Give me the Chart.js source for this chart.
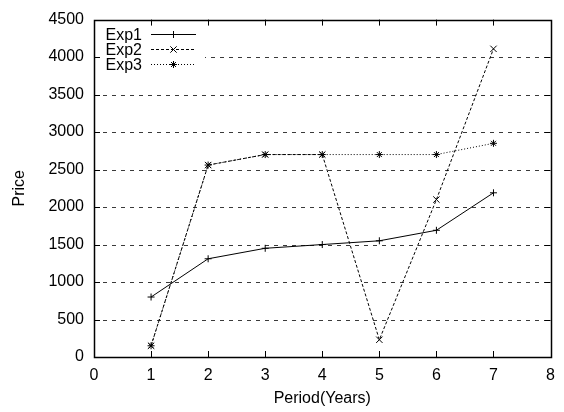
<!DOCTYPE html>
<html>
<head>
<meta charset="utf-8">
<script src="https://cdn.jsdelivr.net/npm/chart.js@4/dist/chart.umd.min.js"></script>
<style>
  html, body { margin: 0; padding: 0; background: #fff; }
  #wrap { width: 564px; height: 412px; }
</style>
</head>
<body>
<div id="wrap"><canvas id="c" width="564" height="412"></canvas></div>
<script>
// Periods (years) and price series for the three experiments
const periods = [1, 2, 3, 4, 5, 6, 7];
const exp1 = [800, 1310, 1450, 1500, 1550, 1690, 2190];
const exp2 = [150, 2560, 2700, 2700, 230, 2100, 4110];
const exp3 = [150, 2560, 2700, 2700, 2700, 2700, 2850];
const seriesNames = ['Exp1', 'Exp2', 'Exp3'];
const xTicks = [0, 1, 2, 3, 4, 5, 6, 7, 8];
const yTicks = [0, 500, 1000, 1500, 2000, 2500, 3000, 3500, 4000, 4500];

const FONT = 'Liberation Sans, Arial, Helvetica, sans-serif';
const pts = (ys) => periods.map((x, i) => ({ x, y: ys[i] }));

const styles = [
  { dash: [], pointStyle: 'cross', radius: 3.5 },
  { dash: [3, 2], pointStyle: 'crossRot', radius: 4.5 },
  { dash: [1, 2], pointStyle: 'star', radius: 3.5 }
];
const values = [exp1, exp2, exp3];

const datasets = values.map((ys, i) => ({
  label: seriesNames[i],
  data: pts(ys),
  borderColor: '#000',
  backgroundColor: '#000',
  borderWidth: 1,
  borderDash: styles[i].dash,
  pointStyle: styles[i].pointStyle,
  pointRadius: styles[i].radius,
  pointBorderWidth: 1,
  pointBorderColor: '#000',
  tension: 0,
  fill: false,
  order: 3 - i
}));

// Key box region (in pixels relative to the chart area's top-left)
const KEY = { w: 110, h: 54, rowH: 15, firstRow: 14.5, textRight: 48, lineX0: 57, lineX1: 102 };

function drawMarker(ctx, style, r, x, y) {
  if (Chart.helpers && Chart.helpers.drawPoint) {
    ctx.save();
    ctx.setLineDash([]);
    ctx.strokeStyle = '#000';
    ctx.fillStyle = '#000';
    ctx.lineWidth = 1;
    Chart.helpers.drawPoint(ctx, { pointStyle: style, radius: r, rotation: 0, borderWidth: 1 }, x, y);
    ctx.restore();
  }
}

const framePlugin = {
  id: 'frame',
  beforeDatasetsDraw(chart) {
    const { ctx, chartArea: a, scales: { y } } = chart;
    ctx.save();
    // dashed horizontal grid at interior ticks
    ctx.strokeStyle = '#3a3a3a';
    ctx.lineWidth = 1;
    ctx.setLineDash([4, 5]);
    yTicks.slice(1, -1).forEach(v => {
      const py = Math.round(y.getPixelForValue(v)) + 0.5;
      ctx.beginPath();
      ctx.moveTo(a.left, py);
      ctx.lineTo(a.right, py);
      ctx.stroke();
    });
    ctx.setLineDash([]);
    // opaque key background
    ctx.fillStyle = '#fff';
    ctx.fillRect(a.left + 1, a.top + 1, KEY.w, KEY.h);
    ctx.restore();
  },
  afterDatasetsDraw(chart) {
    const { ctx, chartArea: a, scales: { x, y } } = chart;
    ctx.save();
    ctx.strokeStyle = '#000';
    ctx.lineWidth = 1;
    ctx.setLineDash([]);
    const T = 6;
    ctx.beginPath();
    xTicks.slice(1, -1).forEach(v => {
      const px = Math.round(x.getPixelForValue(v)) + 0.5;
      ctx.moveTo(px, a.bottom); ctx.lineTo(px, a.bottom - T);
      ctx.moveTo(px, a.top); ctx.lineTo(px, a.top + T);
    });
    yTicks.slice(1, -1).forEach(v => {
      const py = Math.round(y.getPixelForValue(v)) + 0.5;
      ctx.moveTo(a.left, py); ctx.lineTo(a.left + T, py);
      ctx.moveTo(a.right, py); ctx.lineTo(a.right - T, py);
    });
    ctx.stroke();
    // frame
    ctx.lineWidth = 1.5;
    ctx.strokeRect(Math.round(a.left) + 0.5, Math.round(a.top) + 0.5,
                   Math.round(a.right - a.left), Math.round(a.bottom - a.top));

    // key
    ctx.font = '16px ' + FONT;
    ctx.fillStyle = '#000';
    ctx.textAlign = 'right';
    ctx.textBaseline = 'middle';
    seriesNames.forEach((name, i) => {
      const ry = a.top + KEY.firstRow + i * KEY.rowH;
      ctx.fillText(name, a.left + KEY.textRight, ry + 1);
      ctx.lineWidth = 1;
      ctx.setLineDash(styles[i].dash);
      ctx.beginPath();
      ctx.moveTo(a.left + KEY.lineX0, Math.round(ry) + 0.5);
      ctx.lineTo(a.left + KEY.lineX1, Math.round(ry) + 0.5);
      ctx.stroke();
      drawMarker(ctx, styles[i].pointStyle, styles[i].radius,
                 a.left + (KEY.lineX0 + KEY.lineX1) / 2, Math.round(ry) + 0.5);
    });
    ctx.restore();
  }
};

new Chart(document.getElementById('c'), {
  type: 'line',
  data: { datasets },
  options: {
    responsive: false,
    animation: false,
    devicePixelRatio: 1,
    layout: { padding: { top: 18, right: 8, left: 0, bottom: 0 } },
    plugins: { legend: { display: false }, tooltip: { enabled: false } },
    scales: {
      x: {
        type: 'linear',
        min: 0, max: 8,
        afterBuildTicks: (s) => { s.ticks = xTicks.map(v => ({ value: v })); },
        afterFit: (s) => { s.height = 55; },
        grid: { display: false, drawTicks: false },
        border: { display: false },
        ticks: { color: '#000', font: { family: FONT, size: 16 }, padding: 9, maxRotation: 0,
                 callback: (v) => String(v) },
        title: { display: true, text: 'Period(Years)', color: '#000', font: { family: FONT, size: 16 }, padding: { top: 0, bottom: 4 } }
      },
      y: {
        type: 'linear',
        min: 0, max: 4500,
        afterBuildTicks: (s) => { s.ticks = yTicks.map(v => ({ value: v })); },
        afterFit: (s) => { s.width = 94; },
        grid: { display: false, drawTicks: false },
        border: { display: false },
        ticks: { color: '#000', font: { family: FONT, size: 16 }, padding: 10,
                 callback: (v) => String(v) },
        title: { display: true, text: 'Price', color: '#000', font: { family: FONT, size: 16 }, padding: { top: 10, bottom: 0 } }
      }
    }
  },
  plugins: [framePlugin]
});
</script>
</body>
</html>
